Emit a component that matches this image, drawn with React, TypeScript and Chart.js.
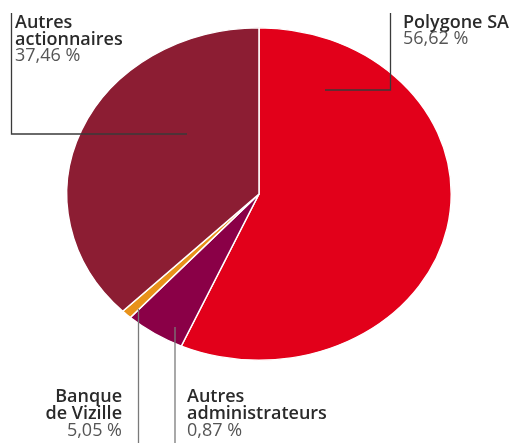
import React, { useEffect, useRef } from "react";
import { Chart, registerables } from "chart.js";

Chart.register(...registerables);

// ---- data ----
const categories = ["Polygone SA", "Banque de Vizille", "Autres administrateurs", "Autres actionnaires"];
const shares = [56.62, 5.05, 0.87, 37.46];
const sliceColors = ["#e2001a", "#8a0047", "#e8921a", "#8c1d33"];

// label texts as printed in the picture
const labelNames = [["Polygone SA"], ["Banque", "de Vizille"], ["Autres", "administrateurs"], ["Autres", "actionnaires"]];
const labelValues = ["56,62 %", "5,05 %", "0,87 %", "37,46 %"];

// ---- layout (annotation positions, not data) ----
const SQUASH = 166 / 192;
const labelLayout = [
  { x: 403, align: "left", baselines: [28, 44], line: [[390.5, 13], [390.5, 90], [325, 90]], lineColor: "#3a3a3a" },
  { x: 122, align: "right", baselines: [402, 419, 436], line: [[138.5, 309], [138.5, 443]], lineColor: "#7a7a7a" },
  { x: 187, align: "left", baselines: [402, 419, 436], line: [[175, 327], [175, 443]], lineColor: "#7a7a7a" },
  { x: 15, align: "left", baselines: [28, 44.5, 61], line: [[11.5, 13], [11.5, 134], [187, 134]], lineColor: "#3a3a3a" },
];

const squashPlugin = {
  id: "squash",
  beforeDatasetsDraw(chart: any) {
    const arc = chart.getDatasetMeta(0).data[0];
    const ctx = chart.ctx;
    ctx.save();
    ctx.translate(arc.x, arc.y);
    ctx.scale(1, SQUASH);
    ctx.translate(-arc.x, -arc.y);
  },
  afterDatasetsDraw(chart: any) {
    chart.ctx.restore();
  },
};

const labelPlugin = {
  id: "sliceLabels",
  afterDraw(chart: any) {
    const ctx = chart.ctx;
    ctx.save();
    labelLayout.forEach((lay, i) => {
      ctx.beginPath();
      ctx.strokeStyle = lay.lineColor;
      ctx.lineWidth = 1.3;
      lay.line.forEach((p, j) => (j === 0 ? ctx.moveTo(p[0], p[1]) : ctx.lineTo(p[0], p[1])));
      ctx.stroke();

      ctx.textAlign = lay.align as CanvasTextAlign;
      ctx.textBaseline = "alphabetic";
      const names = labelNames[i];
      names.forEach((t, j) => {
        ctx.font = "600 18px 'Open Sans'";
        ctx.fillStyle = "#2a2a2a";
        ctx.fillText(t, lay.x, lay.baselines[j]);
      });
      ctx.font = "400 18px 'Open Sans'";
      ctx.fillStyle = "#555555";
      ctx.fillText(labelValues[i], lay.x, lay.baselines[names.length]);
    });
    ctx.restore();
  },
};

export default function App() {
  const ref = useRef<HTMLCanvasElement | null>(null);
  useEffect(() => {
    if (!ref.current) return;
    const chart = new Chart(ref.current, {
      type: "pie",
      data: {
        labels: categories,
        datasets: [
          {
            data: shares,
            backgroundColor: sliceColors,
            borderColor: "#ffffff",
            borderWidth: 1.5,
          },
        ],
      },
      options: {
        animation: false,
        responsive: false,
        maintainAspectRatio: false,
        layout: { padding: { left: 66, right: 63, top: 1, bottom: 56 } },
        plugins: { legend: { display: false }, tooltip: { enabled: false } },
      },
      plugins: [squashPlugin, labelPlugin],
    });
    return () => chart.destroy();
  }, []);
  return (
    <div style={{ position: "absolute", left: 0, top: 0, width: 515, height: 443, background: "#fff" }}>
      <canvas ref={ref} width={515} height={443} style={{ width: 515, height: 443, display: "block" }} />
    </div>
  );
}
